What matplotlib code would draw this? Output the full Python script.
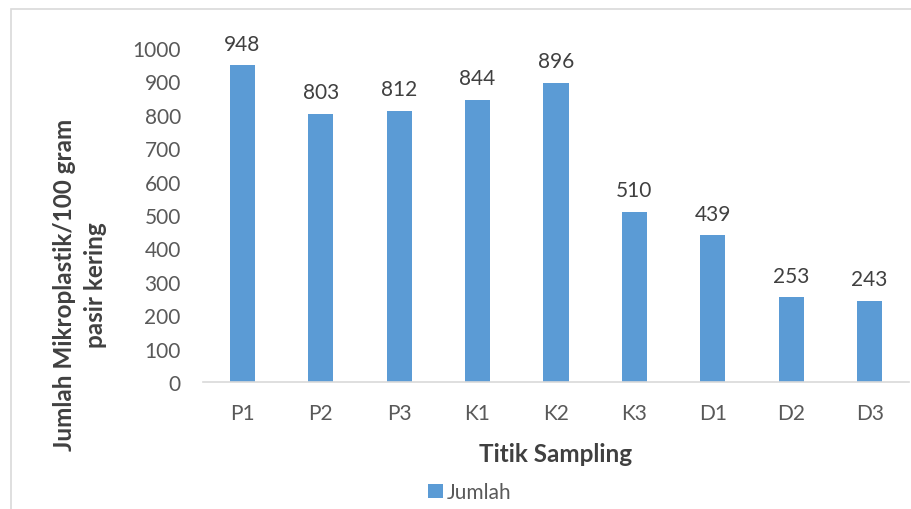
import matplotlib
matplotlib.use("Agg")
import matplotlib.pyplot as plt
from matplotlib.patches import Rectangle

# sampling points and microplastic counts
titik = ["P1", "P2", "P3", "K1", "K2", "K3", "D1", "D2", "D3"]
jumlah = [948, 803, 812, 844, 896, 510, 439, 253, 243]
y_ticks = [0, 100, 200, 300, 400, 500, 600, 700, 800, 900, 1000]

plt.rcParams['font.family'] = ['Lato', 'DejaVu Sans']

fig = plt.figure(figsize=(9.12, 5.1), dpi=100)
ax = fig.add_axes([0.2226, 0.249, 0.774, 0.655])

# chart frame
fig.patches.append(Rectangle((0.012, -0.01), 1.0, 0.99, transform=fig.transFigure,
                             fill=False, edgecolor="#D9D9D9", linewidth=1.2))

x = range(len(titik))
bars = ax.bar(x, jumlah, width=0.32, color="#5B9BD5", label="Jumlah", zorder=2)
for xi, v in zip(x, jumlah):
    ax.text(xi, v + 35, str(v), ha="center", va="bottom", fontsize=15, color="#404040")

ax.set_xlim(-0.5, len(titik) - 0.5)
ax.set_ylim(0, 1000)
ax.set_xticks(list(x))
ax.set_xticklabels(titik, fontsize=15, color="#595959")
ax.set_yticks(y_ticks)
ax.set_yticklabels([str(t) for t in y_ticks], fontsize=15, color="#595959")
ax.tick_params(axis="both", length=0)
ax.tick_params(axis="x", pad=15)
ax.tick_params(axis="y", pad=16)

for side in ["top", "right", "left"]:
    ax.spines[side].set_visible(False)
ax.spines["bottom"].set_color("#D9D9D9")
ax.spines["bottom"].set_linewidth(1.2)

ax.set_xlabel("Titik Sampling", fontsize=17.5, fontweight="bold", color="#404040", labelpad=14)
ax.set_ylabel("Jumlah Mikroplastik/100 gram\npasir kering", fontsize=17.5, fontweight="bold",
              color="#404040", linespacing=1.4)
ax.yaxis.set_label_coords(-0.136, 0.293)

fig.legend(handles=[bars], labels=["Jumlah"], loc="center", bbox_to_anchor=(0.515, 0.033),
           frameon=False, fontsize=15, handlelength=0.7, handleheight=0.7, handletextpad=0.2,
           labelcolor="#595959")

fig.savefig("out.png", dpi=100)
